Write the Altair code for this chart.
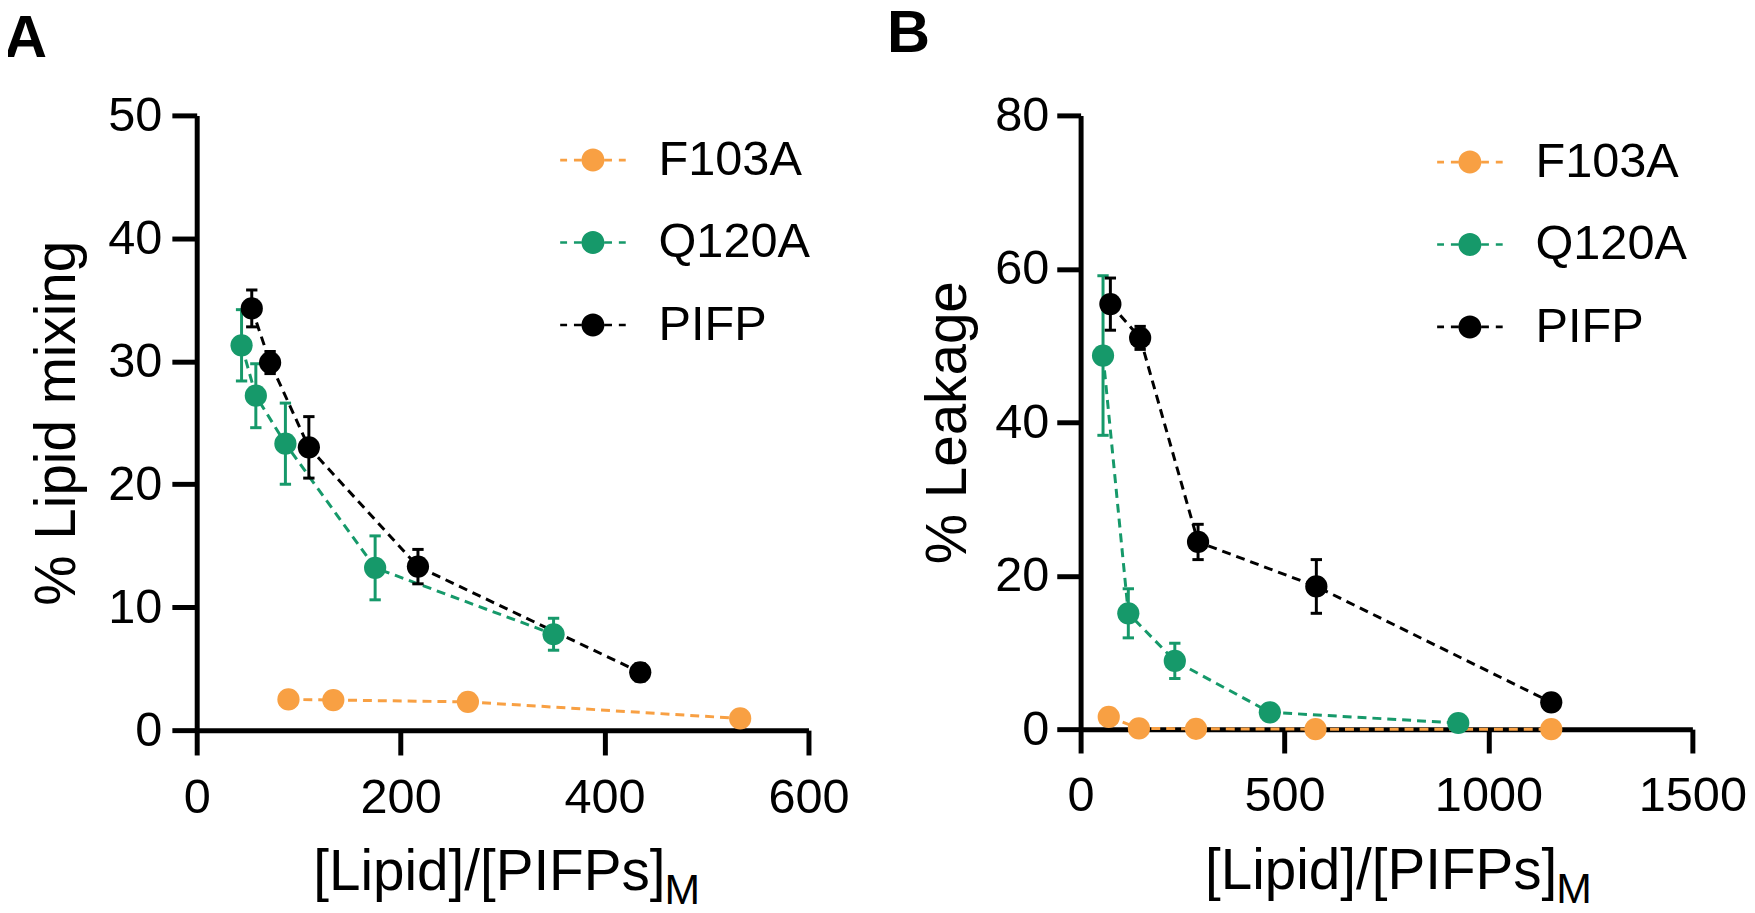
import altair as alt
import pandas as pd

SERIES = ["F103A", "Q120A", "PIFP"]
COLORS = ["#F8A043", "#16996A", "#000000"]

# ---- Panel A: lipid mixing ----
A_F103A_X = [90, 134, 266, 533]
A_F103A_Y = [2.5, 2.45, 2.3, 0.95]
A_F103A_E = [0, 0, 0, 0]
A_Q120A_X = [44, 58, 87, 175, 350]
A_Q120A_Y = [31.3, 27.2, 23.3, 13.2, 7.8]
A_Q120A_E = [2.9, 2.6, 3.3, 2.6, 1.3]
A_PIFP_X = [54, 72, 110, 217, 435]
A_PIFP_Y = [34.3, 29.9, 23.0, 13.3, 4.7]
A_PIFP_E = [1.5, 0.9, 2.5, 1.4, 0.7]

# ---- Panel B: leakage ----
B_F103A_X = [69, 143, 283, 576, 1154]
B_F103A_Y = [1.6, 0.1, 0.05, 0.0, 0.0]
B_F103A_E = [0, 0, 0, 0, 0]
B_Q120A_X = [55, 117, 231, 464, 926]
B_Q120A_Y = [48.7, 15.1, 8.9, 2.2, 0.8]
B_Q120A_E = [10.4, 3.2, 2.3, 0.3, 0.3]
B_PIFP_X = [73, 146, 288, 578, 1154]
B_PIFP_Y = [55.4, 51.0, 24.4, 18.6, 3.5]
B_PIFP_E = [3.4, 1.5, 2.3, 3.5, 0.5]

A_XTICKS = [0, 200, 400, 600]
A_YTICKS = [0, 10, 20, 30, 40, 50]
B_XTICKS = [0, 500, 1000, 1500]
B_YTICKS = [0, 20, 40, 60, 80]

A_YTITLE = "% Lipid mixing"
B_YTITLE = "% Leakage"
XTITLE = "[Lipid]/[PIFPs]"
XSUB = "M"
PANEL_LABELS = ["A", "B"]

FONT = "Liberation Sans"
LEGEND_PATH = ("M-1,-0.04H-0.79V0.04H-1Z M-0.58,-0.04H-0.35V0.04H-0.58Z "
               "M0.35,-0.04H0.58V0.04H0.35Z M0.79,-0.04H1V0.04H0.79Z "
               "M-0.35,0A0.35,0.35,0,1,1,0.35,0A0.35,0.35,0,1,1,-0.35,0Z")


def make_df(xs, ys, es):
    rows = []
    for s, c, x, y, e in zip(SERIES, COLORS, xs, ys, es):
        for xi, yi, ei in zip(x, y, e):
            rows.append({"series": s, "col": c, "x": xi, "y": yi,
                         "lo": yi - ei, "hi": yi + ei, "e": ei})
    return pd.DataFrame(rows)


def panel(df, w, h, xmax, xticks, ymax, yticks, ytitle, tick, lpad, tpad,
          legx, legy, label, lab_x, lab_y, xt_right):
    xs = alt.Scale(domain=[0, xmax], nice=False, zero=True)
    ys = alt.Scale(domain=[0, ymax], nice=False, zero=True)
    common = dict(grid=False, tickSize=tick, tickWidth=5, domainWidth=5,
                  domainColor="black", tickColor="black", labelColor="black",
                  labelFontSize=49, labelFont=FONT, labelFlush=False,
                  labelOverlap=False, format="d")
    xax = alt.Axis(values=xticks, title=None, labelPadding=19, **common)
    yax = alt.Axis(values=yticks, title=ytitle, titleFontSize=57, titleFont=FONT,
                   titleFontWeight="normal", titleColor="black",
                   titleBaseline="alphabetic", titlePadding=tpad,
                   labelPadding=lpad, **common)
    cscale = alt.Scale(domain=SERIES, range=COLORS)
    ident = alt.Stroke("col:N", scale=None)
    base = alt.Chart(df)
    lines = base.mark_line(strokeDash=[9, 6], strokeWidth=3, clip=False).encode(
        x=alt.X("x:Q", scale=xs, axis=xax),
        y=alt.Y("y:Q", scale=ys, axis=yax),
        stroke=ident,
        detail="series:N",
        order="x:Q",
    )
    err = df[df["e"] > 0]
    rules = alt.Chart(err).mark_rule(strokeWidth=3, clip=False).encode(
        x="x:Q", y="lo:Q", y2="hi:Q", stroke=ident)
    caps_hi = alt.Chart(err).mark_point(shape="M-1,0L1,0", filled=False, size=130,
                                        strokeWidth=3, opacity=1, clip=False).encode(
        x="x:Q", y="hi:Q", stroke=ident)
    caps_lo = alt.Chart(err).mark_point(shape="M-1,0L1,0", filled=False, size=130,
                                        strokeWidth=3, opacity=1, clip=False).encode(
        x="x:Q", y="lo:Q", stroke=ident)
    points = base.mark_point(filled=True, size=500, opacity=1, clip=False).encode(
        x="x:Q", y="y:Q",
        color=alt.Color("series:N", scale=cscale,
                        legend=alt.Legend(title=None, orient="none", legendX=legx, legendY=legy,
                                          symbolType=LEGEND_PATH, symbolSize=4356,
                                          symbolStrokeWidth=0, symbolOpacity=1,
                                          labelFontSize=49, labelFont=FONT, labelColor="black",
                                          labelOffset=33, rowPadding=25, labelLimit=400,
                                          padding=0, offset=0)),
    )
    tdf = pd.DataFrame({"t": [XTITLE], "m": [XSUB], "p": [label]})
    t_main = alt.Chart(tdf).mark_text(align="right", baseline="alphabetic", fontSize=57,
                                      font=FONT, color="black").encode(
        x=alt.value(xt_right), y=alt.value(h + 161), text="t:N")
    t_sub = alt.Chart(tdf).mark_text(align="left", baseline="alphabetic", fontSize=43,
                                     font=FONT, color="black").encode(
        x=alt.value(xt_right - 1), y=alt.value(h + 175), text="m:N")
    t_lab = alt.Chart(tdf).mark_text(align="left", baseline="alphabetic", fontSize=60,
                                     fontWeight="bold", font=FONT, color="black").encode(
        x=alt.value(lab_x), y=alt.value(lab_y), text="p:N")
    return alt.layer(lines, rules, caps_hi, caps_lo, points, t_main, t_sub, t_lab).properties(
        width=w, height=h)


dfA = make_df([A_F103A_X, A_Q120A_X, A_PIFP_X], [A_F103A_Y, A_Q120A_Y, A_PIFP_Y],
              [A_F103A_E, A_Q120A_E, A_PIFP_E])
dfB = make_df([B_F103A_X, B_Q120A_X, B_PIFP_X], [B_F103A_Y, B_Q120A_Y, B_PIFP_Y],
              [B_F103A_E, B_Q120A_E, B_PIFP_E])

pA = panel(dfA, 616, 619, 600, A_XTICKS, 50, A_YTICKS, A_YTITLE, 25, 10, 34,
           366, 12, PANEL_LABELS[0], -194, -59, 472)
pB = panel(dfB, 616, 618, 1500, B_XTICKS, 80, B_YTICKS, B_YTITLE, 24, 8, 29,
           359, 14, PANEL_LABELS[1], -195, -64, 480)

chart = alt.hconcat(pA, pB, spacing=38).resolve_scale(color="independent").resolve_legend(
    color="independent").properties(
    padding={"top": -7, "left": -4, "right": 0, "bottom": 0}
).configure(font=FONT).configure_view(stroke=None)

chart.save("out.html", embed_options={"renderer": "svg", "actions": False})
